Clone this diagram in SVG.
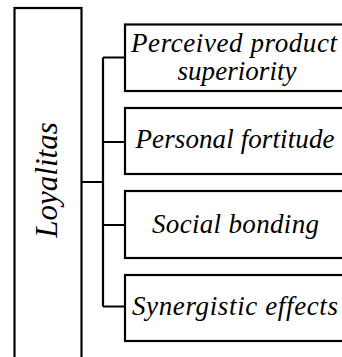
<svg xmlns="http://www.w3.org/2000/svg" width="342" height="357" viewBox="0 0 342 357">
<style>
.box{fill:#fff;stroke:#000;stroke-width:2.2}
.t{font-family:"Liberation Serif","Times New Roman",serif;font-style:italic;fill:#000}
.c{fill:none;stroke:#000;stroke-width:2.2}
</style>
<rect width="342" height="357" fill="#fff"/>
<g id="loyalitas">
<rect class="box" x="14.5" y="8" width="67" height="360"/>
<text class="t" font-size="31" transform="translate(57,180) rotate(-90)" text-anchor="middle">Loyalitas</text>
</g>
<g id="connectors">
<path class="c" d="M81.5 182H103M103 57.5V306.5M103 57.5H125M103 142H125M103 225H125M103 306.5H125"/>
</g>
<g id="n1">
<rect class="box" x="125" y="24.5" width="230" height="66.5"/>
<text class="t" font-size="27" x="234" y="52" text-anchor="middle" textLength="206" lengthAdjust="spacing">Perceived product</text>
<text class="t" font-size="27" x="237" y="80" text-anchor="middle" textLength="119" lengthAdjust="spacing">superiority</text>
</g>
<g id="n2">
<rect class="box" x="125" y="108" width="230" height="66"/>
<text class="t" font-size="27" x="235" y="148" text-anchor="middle" textLength="199" lengthAdjust="spacing">Personal fortitude</text>
</g>
<g id="n3">
<rect class="box" x="125" y="191" width="230" height="67"/>
<text class="t" font-size="27" x="235.5" y="233" text-anchor="middle" textLength="167" lengthAdjust="spacing">Social bonding</text>
</g>
<g id="n4">
<rect class="box" x="125" y="275" width="230" height="66"/>
<text class="t" font-size="27" x="235" y="315" text-anchor="middle" textLength="206" lengthAdjust="spacing">Synergistic effects</text>
</g>
</svg>
